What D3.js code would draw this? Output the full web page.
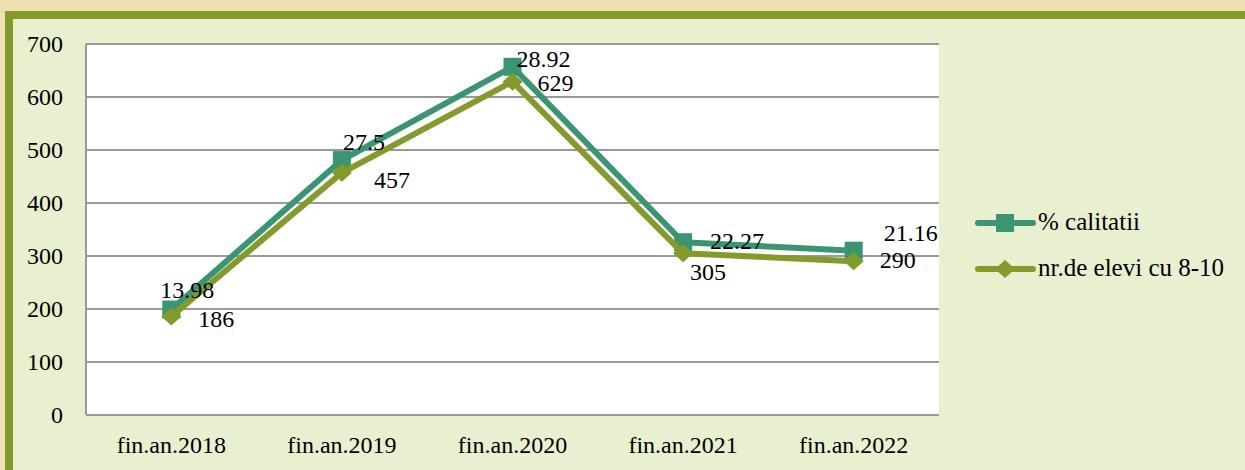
<!DOCTYPE html>
<html>
<head>
<meta charset="utf-8">
<script src="https://cdn.jsdelivr.net/npm/d3@7/dist/d3.min.js"></script>
<style>
  html, body { margin: 0; padding: 0; background: #f0dfb0; }
  svg { display: block; }
</style>
</head>
<body>
<svg id="chart" width="1245" height="470"></svg>
<script>
// data
const categories = ['fin.an.2018', 'fin.an.2019', 'fin.an.2020', 'fin.an.2021', 'fin.an.2022'];
const calitatiiValues = [199, 481, 657, 326, 310];           // plotted height of the % series
const calitatiiLabels = ['13.98', '27.5', '28.92', '22.27', '21.16'];
const eleviValues = [186, 457, 629, 305, 290];
const yTicks = [0, 100, 200, 300, 400, 500, 600, 700];

// label nudges (px from marker centre), one per point
const calitatiiOffsets = [[-11, -12], [1, -10], [4, 0], [27, 7], [30, -10]];
const eleviOffsets = [[27, 11], [32, 15], [25, 9], [7, 27], [26, 7]];

const FONT = '"Liberation Serif", "Times New Roman", serif';

const series = [
  { name: '% calitatii', values: calitatiiValues, labels: calitatiiLabels, offs: calitatiiOffsets, color: '#3b9572', marker: 'square' },
  { name: 'nr.de elevi cu 8-10', values: eleviValues, labels: eleviValues.map(String), offs: eleviOffsets, color: '#849a2b', marker: 'diamond' }
];

const svg = d3.select('#chart');

function txt(sel, size) {
  return sel.style('font-family', FONT).style('font-size', size + 'px').style('fill', '#000');
}

// frame
svg.append('rect').attr('x', 9).attr('y', 15).attr('width', 1260).attr('height', 480)
  .attr('fill', '#e9f0d0').attr('stroke', '#849a2a').attr('stroke-width', 8);

const m = { left: 86, top: 44, right: 939, bottom: 415 };

const x = d3.scaleBand().domain(categories).range([m.left, m.right]);
const y = d3.scaleLinear().domain([0, 700]).range([m.bottom, m.top]);

svg.append('rect').attr('x', m.left).attr('y', m.top)
  .attr('width', m.right - m.left).attr('height', m.bottom - m.top).attr('fill', '#fff');

// gridlines
svg.append('g').selectAll('line').data(yTicks).join('line')
  .attr('x1', m.left).attr('x2', m.right)
  .attr('y1', d => y(d)).attr('y2', d => y(d))
  .attr('stroke', '#999').attr('stroke-width', 2);

svg.append('line').attr('x1', m.left).attr('x2', m.left)
  .attr('y1', m.top).attr('y2', m.bottom).attr('stroke', '#999').attr('stroke-width', 2);

// y axis labels
const yAxis = d3.axisLeft(y).tickValues(yTicks).tickSize(0).tickPadding(23);
const gy = svg.append('g').attr('transform', `translate(${m.left},0)`).call(yAxis);
gy.select('.domain').remove();
txt(gy.selectAll('text'), 24).attr('dy', '0.3em');

// x axis labels
const xAxis = d3.axisBottom(x).tickSize(0).tickPadding(21);
const gx = svg.append('g').attr('transform', `translate(0,${m.bottom})`).call(xAxis);
gx.select('.domain').remove();
txt(gx.selectAll('text'), 24);

const cx = d => x(d) + x.bandwidth() / 2;

function drawMarker(g, type, color, px, py) {
  if (type === 'square') {
    g.append('rect').attr('x', px - 9).attr('y', py - 9).attr('width', 18).attr('height', 18).attr('fill', color);
  } else {
    g.append('path').attr('d', `M${px},${py - 9}L${px + 10},${py}L${px},${py + 9}L${px - 10},${py}Z`).attr('fill', color);
  }
}

const lineGen = d3.line().x(d => cx(d.cat)).y(d => y(d.v));

series.forEach(s => {
  const pts = categories.map((c, i) => ({ cat: c, v: s.values[i] }));
  const g = svg.append('g');
  g.append('path').datum(pts).attr('d', lineGen)
    .attr('fill', 'none').attr('stroke', s.color).attr('stroke-width', 6).attr('stroke-linejoin', 'round');
  pts.forEach(p => drawMarker(g, s.marker, s.color, cx(p.cat), y(p.v)));
});

// data labels
series.forEach(s => {
  txt(svg.append('g').selectAll('text').data(categories).join('text')
    .attr('x', (c, i) => cx(c) + s.offs[i][0])
    .attr('y', (c, i) => y(s.values[i]) + s.offs[i][1])
    .text((c, i) => s.labels[i]), 24);
});

// legend
const leg = svg.append('g');
series.forEach((s, i) => {
  const ly = 223 + i * 46;
  leg.append('line').attr('x1', 978).attr('x2', 1033).attr('y1', ly).attr('y2', ly)
    .attr('stroke', s.color).attr('stroke-width', 6).attr('stroke-linecap', 'round');
  drawMarker(leg, s.marker, s.color, 1005, ly);
  txt(leg.append('text').attr('x', 1038).attr('y', ly + 7).text(s.name), 25);
});
</script>
</body>
</html>
